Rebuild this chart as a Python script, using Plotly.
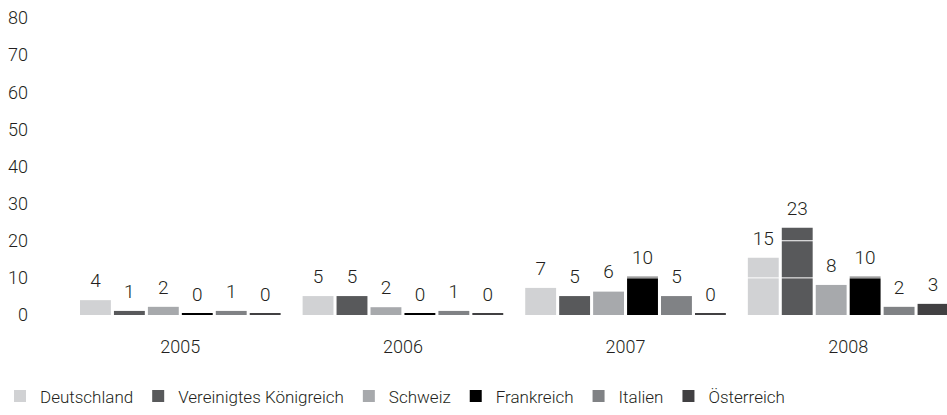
import plotly.graph_objects as go

years = ["2005", "2006", "2007", "2008"]
countries = ["Deutschland", "Vereinigtes Königreich", "Schweiz", "Frankreich", "Italien", "Österreich"]
colors = ["#d1d2d4", "#58595b", "#a7a9ac", "#000000", "#808285", "#414042"]

deutschland = [4.0, 5.1, 7.3, 15.4]
vereinigtes_koenigreich = [1.1, 5.1, 5.1, 23.5]
schweiz = [2.2, 2.1, 6.3, 8.1]
frankreich = [0.3, 0.3, 10.3, 10.3]
italien = [1.1, 1.1, 5.1, 2.2]
oesterreich = [0.3, 0.3, 0.3, 3.0]
series = [deutschland, vereinigtes_koenigreich, schweiz, frankreich, italien, oesterreich]

labels_deutschland = ["4", "5", "7", "15"]
labels_vk = ["1", "5", "5", "23"]
labels_schweiz = ["2", "2", "6", "8"]
labels_frankreich = ["0", "0", "10", "10"]
labels_italien = ["1", "1", "5", "2"]
labels_oesterreich = ["0", "0", "0", "3"]
labels = [labels_deutschland, labels_vk, labels_schweiz, labels_frankreich, labels_italien, labels_oesterreich]

yticks = [0, 10, 20, 30, 40, 50, 60, 70, 80]

FONT = "Roboto, sans-serif"
W = 300
TXT = "#231f20"
XRANGE = [-0.5, 3.444]

fig = go.Figure()
for i, name in enumerate(countries):
    fig.add_trace(go.Bar(
        x=years, y=series[i], name=name, marker_color=colors[i],
        marker_line_width=0, offsetgroup=str(i), hoverinfo="skip",
    ))

# white grid lines drawn over the bars (overlay subplot x2)
gx, gy = [], []
for v in yticks[1:-1]:
    gx += [0, 1, None]
    gy += [v, v, None]
fig.add_trace(go.Scatter(x=gx, y=gy, xaxis="x2", yaxis="y", mode="lines",
                         line=dict(color="white", width=1), showlegend=False,
                         hoverinfo="skip"))

# value labels on top (overlay subplot x3)
for i, name in enumerate(countries):
    fig.add_trace(go.Scatter(
        x=years, y=series[i], xaxis="x3", yaxis="y", mode="markers+text", text=labels[i],
        textposition="top center", offsetgroup=str(i), showlegend=False,
        marker=dict(size=12, opacity=0), cliponaxis=False,
        textfont=dict(family=FONT, size=19, color=TXT, weight=W), hoverinfo="skip",
    ))

fig.update_layout(
    width=947, height=415,
    margin=dict(l=67, r=0, t=18, b=100),
    barmode="group", scattermode="group",
    bargap=0.085, bargroupgap=0.09, scattergap=0.085,
    plot_bgcolor="white", paper_bgcolor="white",
    font=dict(family=FONT, size=16, color=TXT, weight=W),
    showlegend=True,
    legend=dict(orientation="h", x=-0.079, xanchor="left", y=-0.274, yanchor="middle",
                font=dict(family=FONT, size=17, color=TXT, weight=W), bgcolor="rgba(0,0,0,0)",
                traceorder="normal"),
    xaxis=dict(type="category", categoryarray=years, range=XRANGE, showline=False, ticks="",
               showgrid=False, zeroline=False, ticklabelstandoff=19,
               tickfont=dict(family=FONT, size=18, color=TXT, weight=W)),
    xaxis2=dict(overlaying="x", range=[0, 1], visible=False, showgrid=False, zeroline=False),
    xaxis3=dict(overlaying="x", type="category", categoryarray=years, range=XRANGE,
                visible=False, showgrid=False, zeroline=False),
    yaxis=dict(range=[0, 80], tickvals=yticks, showgrid=False,
               zeroline=False, showline=False, ticks="", ticklabelstandoff=40,
               tickfont=dict(family=FONT, size=18, color=TXT, weight=W)),
)

fig.write_html("out.html")
